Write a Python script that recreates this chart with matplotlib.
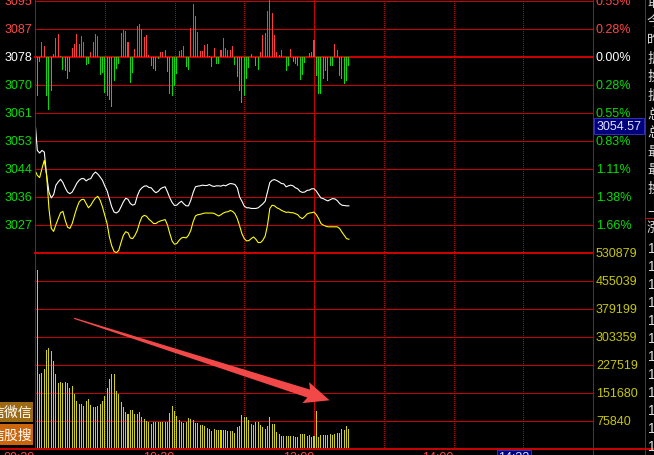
import matplotlib
matplotlib.use("Agg")
import matplotlib.pyplot as plt
from matplotlib.patches import Rectangle, Polygon
from matplotlib.lines import Line2D
from matplotlib.transforms import blended_transform_factory
import numpy as np

# ---------------- data ----------------
n_minutes = 240
line_minutes = list(range(0, 136))
bar_minutes = list(range(1, 136))

white_price = [
    3059.2, 3050.0, 3049.2, 3050.0, 3049.5, 3042.4, 3037.3, 3035.5, 3036.5, 3039.4,
    3040.4, 3041.2, 3040.2, 3038.6, 3037.3, 3036.8, 3037.3, 3038.6, 3040.0, 3040.9,
    3041.4, 3041.4, 3040.7, 3041.2, 3041.4, 3042.7, 3043.4, 3042.8, 3041.9, 3040.9,
    3039.2, 3037.7, 3035.3, 3032.8, 3031.2, 3030.9, 3031.4, 3032.8, 3034.3, 3035.4,
    3035.1, 3033.8, 3033.3, 3033.6, 3036.1, 3037.8, 3038.6, 3039.1, 3039.2, 3038.7,
    3038.6, 3037.7, 3037.1, 3037.5, 3038.3, 3038.7, 3038.9, 3037.3, 3035.5, 3034.1,
    3033.2, 3033.3, 3034.0, 3034.5, 3033.7, 3033.1, 3033.1, 3034.8, 3037.1, 3038.9,
    3039.1, 3039.2, 3039.4, 3039.3, 3039.3, 3039.6, 3039.2, 3039.0, 3039.2, 3039.2,
    3039.1, 3039.4, 3039.2, 3039.6, 3039.9, 3039.8, 3039.6, 3038.6, 3035.8, 3034.5,
    3033.0, 3032.5, 3032.5, 3032.3, 3032.3, 3032.3, 3032.5, 3033.1, 3033.7, 3034.5,
    3037.3, 3040.2, 3040.9, 3041.1, 3040.8, 3040.4, 3039.9, 3039.8, 3038.9, 3039.2,
    3039.4, 3039.2, 3038.6, 3038.3, 3037.5, 3037.2, 3037.3, 3037.8, 3037.9, 3038.3,
    3038.3, 3037.6, 3036.5, 3035.5, 3035.3, 3034.9, 3034.6, 3035.0, 3035.3, 3035.2,
    3034.7, 3033.8, 3033.3, 3033.2, 3033.1, 3033.1]

yellow_price = [
    3043.9, 3042.4, 3041.7, 3044.5, 3047.0, 3042.4, 3032.3, 3026.2, 3025.3, 3027.4,
    3029.2, 3031.0, 3031.4, 3028.7, 3026.6, 3026.2, 3027.7, 3030.2, 3032.5, 3034.3,
    3035.0, 3035.1, 3033.8, 3032.5, 3033.3, 3034.5, 3035.5, 3036.0, 3034.8, 3032.8,
    3030.2, 3027.7, 3023.6, 3020.9, 3019.2, 3018.8, 3019.5, 3021.9, 3024.1, 3025.2,
    3024.9, 3023.3, 3023.1, 3024.1, 3025.6, 3028.0, 3029.7, 3030.2, 3029.9, 3029.0,
    3028.4, 3027.7, 3027.7, 3028.2, 3028.5, 3028.7, 3028.9, 3027.2, 3024.6, 3022.3,
    3021.4, 3021.6, 3022.6, 3023.3, 3023.5, 3023.3, 3024.1, 3025.6, 3028.2, 3030.0,
    3030.4, 3030.5, 3030.7, 3030.9, 3030.9, 3030.9, 3030.9, 3030.8, 3030.4, 3030.0,
    3030.4, 3030.9, 3031.2, 3031.3, 3031.7, 3031.4, 3030.7, 3029.2, 3027.0, 3024.6,
    3023.1, 3022.4, 3022.5, 3023.1, 3023.6, 3022.9, 3021.9, 3021.9, 3022.6, 3023.9,
    3027.2, 3032.3, 3033.3, 3033.1, 3032.5, 3032.2, 3031.7, 3031.4, 3031.1, 3031.2,
    3031.0, 3031.0, 3030.7, 3030.4, 3029.6, 3029.2, 3029.8, 3030.6, 3030.9, 3031.0,
    3031.2, 3030.4, 3029.2, 3027.7, 3027.2, 3026.9, 3026.7, 3026.7, 3026.7, 3026.7,
    3026.7, 3026.2, 3025.1, 3024.1, 3023.1, 3022.9]

strength = [
    -39, -5, 15.7, 11.7, -39, -53, -34, 3.7, 19.7, 23.7,
    1.7, -12.3, -13.3, -21.3, -14.3, 9.7, 13.7, 23.7, 13.7, 21.7,
    15.7, -8, -6.3, 5.7, 15.7, 23.7, 21.7, -17.3, -15.3, -35.3,
    -39, -43, -50, -23.3, -12, -7, 24.7, 27.7, 26.7, 15.7,
    -26, -15.3, 8.7, 31.7, 33.7, 28.7, 20.7, 22.7, 2.7, -9,
    -12, -13.3, -1.3, 5.7, 5.7, 7.7, -14.3, -36.3, -38.3, -28.3,
    -16.3, 6.7, 7.7, 11.7, -9.3, -12.3, 29.7, 53.7, 41.7, 25.7,
    6.7, 6.7, 12.7, 13.7, 1.7, -9.3, 9.7, -6.3, -6.3, 7.7,
    19.7, 9.7, 7.7, 7.7, 11.7, -7.3, -19.3, -33.3, -45.3, -38.3,
    -21.3, -10.3, 3.7, 0, -8.3, -12.3, 5.7, 22.7, 24.7, 46.7,
    62, 44.7, 22.7, 5.7, 2.7, 7.7, 0, -13.3, -8.3, 8.7,
    -4.3, -6.3, -8.3, -22.3, -17.3, -5.3, 0, 4.7, 5.7, 17.7,
    -18.3, -36.3, -36.3, -21.3, -13.3, -23.3, -8.3, -8.3, 13.7, 7.7,
    -18.3, -21.3, -26.3, -23.3, -8.3]

volume = [
    484900, 203150, 207670, 216700, 268160, 273580, 265450, 238370, 203150, 180580,
    183290, 180580, 183290, 180580, 165230, 170650, 150780, 131820, 123700, 123700,
    118280, 131820, 137240, 120990, 115570, 115570, 118280, 123700, 131820, 145370,
    165230, 189610, 203150, 203150, 157100, 148980, 129110, 115570, 102030, 96610,
    107450, 107450, 96610, 96610, 102030, 88480, 83070, 77650, 74940, 69520,
    74940, 74940, 74940, 74940, 74940, 74940, 74940, 99320, 118280, 104740,
    91190, 80360, 74940, 72230, 74940, 85780, 83070, 80360, 72230, 72230,
    66810, 66810, 64110, 58690, 55980, 50560, 55980, 53270, 53270, 53270,
    53270, 53270, 50560, 50560, 50560, 45150, 61400, 64110, 93900, 88480,
    88480, 80360, 69520, 66810, 74940, 74940, 66810, 61400, 55980, 64110,
    88480, 69520, 69520, 47850, 42440, 37020, 37020, 37020, 37020, 37020,
    37020, 34310, 34310, 42440, 42440, 42440, 37020, 39730, 34310, 37020,
    104740, 34310, 39730, 39730, 39730, 39730, 42440, 39730, 42440, 45150,
    45150, 55980, 53270, 64110, 55980]

base_price = 3078.4
price_step = 8.54
price_levels = [2, 1, 0, -1, -2, -3, -4, -5, -6]
price_labels = ["3095", "3087", "3078", "3070", "3061", "3053", "3044", "3036", "3027"]
pct_labels = ["0.55%", "0.28%", "0.00%", "0.28%", "0.55%", "0.83%", "1.11%", "1.38%", "1.66%"]
vol_step = 75840
vol_levels = [7, 6, 5, 4, 3, 2, 1]
vol_labels = ["530879", "455039", "379199", "303359", "227519", "151680", "75840"]
time_ticks = [0, 60, 120, 180]
time_labels = ["09:30", "10:30", "13:00", "14:00"]
dotted_minutes = [30, 60, 90, 150, 180, 210]
noon_minute = 120
cursor_price = "3054.57"
cursor_time = "14:32"
arrow_tail = (16.8, 354840)
arrow_tip = (126.7, 132720)
side_chars = ["取", "今", "昨", "振", "换", "振", "总", "总", "最", "最", "换", "上"]
button_labels = ["信微信", "信股搜"]

# ---------------- style ----------------
W, H, DPI = 654, 456, 100
fig = plt.figure(figsize=(W / DPI, H / DPI), dpi=DPI, facecolor="black")
PX = 72 / DPI

GRID = "#c80000"
RED_T = "#ff4646"
GREEN_T = "#00e000"
YEL_T = "#c8c800"
BAR_RED = "#ff3c3c"
BAR_GREEN = "#00e000"
VOL_C = "#d2d200"
FONT = "Liberation Sans"
CJK = ["Noto Sans CJK SC", "DejaVu Sans"]


def fx(p):
    return p / W


def fy(p):
    return 1 - p / H


X0, X1 = 35, 593
BOT_P, BOT_V = 254.3, 450.3

ax_p = fig.add_axes([fx(X0), fy(BOT_P), (X1 - X0) / W, BOT_P / H])
ax_v = fig.add_axes([fx(X0), fy(BOT_V), (X1 - X0) / W, (BOT_V - BOT_P) / H])
ax_s = fig.add_axes([fx(X0), fy(116.6), (X1 - X0) / W, 116.6 / H])
for a in (ax_p, ax_v, ax_s):
    a.set_xlim(0, n_minutes)
    a.set_axis_off()
    a.patch.set_alpha(0)

ax_p.set_ylim(base_price - 7 * price_step, base_price + (58.3 / 28) * price_step)
ax_v.set_ylim(0, 7 * vol_step)
ax_s.set_ylim(-58.3, 58.3)

# horizontal grid
for k in range(2, -8, -1):
    lw = 2 if k in (0, -7) else 1
    ax_p.axhline(base_price + k * price_step, color=GRID, lw=lw * PX, clip_on=False,
                 zorder=1, antialiased=False)
for k in range(1, 7):
    ax_v.axhline(k * vol_step, color=GRID, lw=PX, clip_on=False, zorder=1, antialiased=False)

# vertical grid
for a in (ax_p, ax_v):
    for m in dotted_minutes:
        a.axvline(m, color=GRID, lw=PX, ls=(0, (1, 2)), zorder=1, antialiased=False)
    a.axvline(noon_minute, color=GRID, lw=PX, zorder=1, antialiased=False)

# frame lines
for xs, ys, lw in [([fx(X0), fx(X0)], [fy(0), fy(BOT_V)], 1),
                   ([fx(X1), fx(X1)], [fy(0), fy(H)], 1),
                   ([fx(645), fx(645)], [fy(0), fy(H)], 1),
                   ([0, 1], [fy(BOT_V), fy(BOT_V)], 2),
                   ([fx(645), 1], [fy(219), fy(219)], 1)]:
    fig.add_artist(Line2D(xs, ys, color=GRID, lw=lw * PX, antialiased=False))

# bars
s_colors = [BAR_RED if v > 0 else BAR_GREEN for v in strength]
ax_s.bar(bar_minutes, strength, width=0.45, color=s_colors, linewidth=0, zorder=3,
         antialiased=False)
ax_v.bar(bar_minutes, volume, width=0.45, color=VOL_C, linewidth=0, zorder=3,
         antialiased=False)

# price lines
ax_p.plot(line_minutes, white_price, color="white", lw=1.1 * PX, zorder=4)
ax_p.plot(line_minutes, yellow_price, color="#ffff00", lw=1.1 * PX, zorder=4)

# axis labels
tp = blended_transform_factory(fig.transFigure, ax_p.transData)
for k, lab, pl in zip(price_levels, price_labels, pct_labels):
    col = RED_T if k > 0 else ("white" if k == 0 else GREEN_T)
    y = base_price + k * price_step
    fig.text(fx(32), y, lab, transform=tp, ha="right", va="center", color=col,
             fontsize=9, family=FONT)
    fig.text(fx(596), y, pl, transform=tp, ha="left", va="center", color=col,
             fontsize=9, family=FONT)

tv = blended_transform_factory(fig.transFigure, ax_v.transData)
for k, lab in zip(vol_levels, vol_labels):
    fig.text(fx(596), k * vol_step, lab, transform=tv, ha="left", va="center",
             color=YEL_T, fontsize=9, family=FONT)

tt = blended_transform_factory(ax_v.transData, fig.transFigure)
for m, lab in zip(time_ticks, time_labels):
    fig.text(m, fy(452), lab, transform=tt, ha="right", va="top", color=RED_T,
             fontsize=9, family=FONT)

# cursor price box
fig.add_artist(Rectangle((fx(594), fy(135)), 50 / W, 16 / H, transform=fig.transFigure,
                         facecolor="#00007c", edgecolor="#3030b0", lw=PX))
fig.text(fx(619), fy(127.5), cursor_price, ha="center", va="center", color="#e0e0ff",
         fontsize=9, family=FONT)
# cursor time box
fig.add_artist(Rectangle((fx(497), fy(460)), 34 / W, 9.3 / H, transform=fig.transFigure,
                         facecolor="#00007c", edgecolor="#3030b0", lw=PX))
fig.text(fx(514), fy(452), cursor_time, ha="center", va="top", color="#e0e0ff",
         fontsize=9, family=FONT)

# left buttons
fig.add_artist(Rectangle((0, fy(423)), 33 / W, 20 / H, transform=fig.transFigure,
                         facecolor="#9c6a12", edgecolor="none"))
fig.add_artist(Rectangle((0, fy(446)), 33 / W, 21 / H, transform=fig.transFigure,
                         facecolor="#cc660c", edgecolor="none"))
fig.text(fx(32), fy(413), button_labels[0], ha="right", va="center", color="white",
         fontsize=10, family=CJK)
fig.text(fx(32), fy(435.5), button_labels[1], ha="right", va="center", color="white",
         fontsize=10, family=CJK)

# right info strip (cut off by the window edge, as in the screenshot)
for j, ch in enumerate(side_chars):
    fig.text(fx(647), fy(3 + j * 18.6), ch, ha="left", va="center", color="#d8d8d8",
             fontsize=10, family=CJK)
fig.text(fx(647), fy(228), "涨", ha="left", va="center", color="#d8d8d8", fontsize=10, family=CJK)
for j in range(12):
    fig.text(fx(648), fy(249 + j * 18), "14:31", ha="left", va="center", color="#e0e0e0",
             fontsize=10, family=FONT)

# arrow annotation
fig.canvas.draw()
t0 = np.array(ax_v.transData.transform(arrow_tail))
t1 = np.array(ax_v.transData.transform(arrow_tip))
d = t1 - t0
u = d / np.hypot(*d)
nrm = np.array([-u[1], u[0]])
head_len, head_half, shaft_half = 22, 11, 4.2
hb = t1 - head_len * u
pts_disp = np.array([
    t0 + 0.6 * nrm,
    hb + shaft_half * nrm,
    t1 - (head_len + 3) * u + head_half * nrm,
    t1,
    t1 - (head_len + 3) * u - head_half * nrm,
    hb - shaft_half * nrm,
    t0 - 0.6 * nrm,
])
pts_fig = fig.transFigure.inverted().transform(pts_disp)
fig.add_artist(Polygon(pts_fig, closed=True, transform=fig.transFigure,
                       facecolor="#f24848", edgecolor="none", zorder=10))

fig.savefig("out.png", dpi=DPI, facecolor="black")
